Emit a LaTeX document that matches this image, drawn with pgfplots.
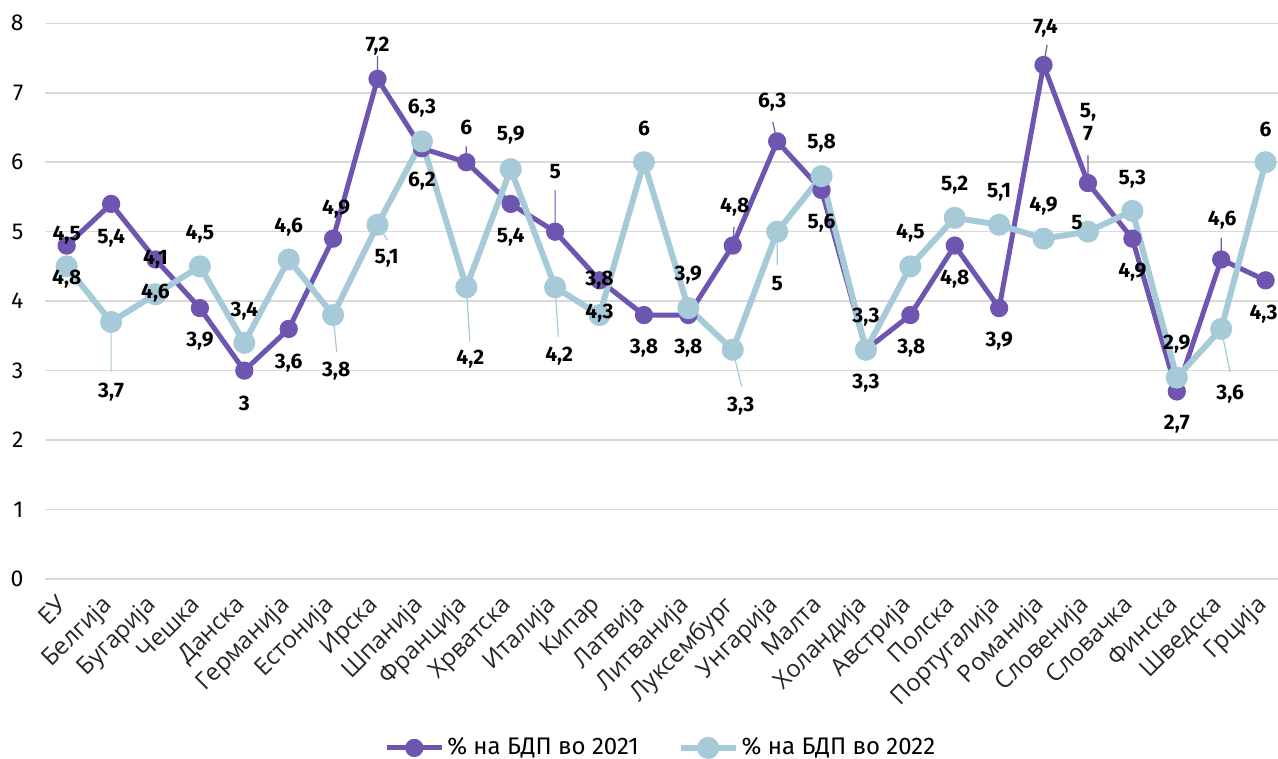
\documentclass[border=0pt]{standalone}
\usepackage{pgfplots}
\pgfplotsset{compat=1.18}
\usepackage{pgfplotstable}
\usepackage{fontspec}
\setmainfont{Fira Sans}
\newfontfamily\catfont{Open Sans}
\definecolor{c21}{HTML}{6E55B0}
\definecolor{c22}{HTML}{A6CAD8}
\definecolor{gridc}{HTML}{D9D9D9}
\newcommand\sfv{\shortstack{5,\\7}}

% x y dx dy (label offset, pt) lbl
\pgfplotstableread{
x y dx dy lbl
0 4.8 0 5.5 4,5
1 5.4 0 -17 5,4
2 4.6 0 0 4,1
3 3.9 0 -16.5 3,9
4 3.0 0 -16.5 3
5 3.6 0 -17 3,6
6 4.9 1.5 15 4,9
7 7.2 0 16.5 7,2
8 6.2 0 -16.5 6,2
9 6.0 0 17.5 6
10 5.4 0 -16.5 5,4
11 5.0 0 30 5
12 4.3 0 0 3,8
13 3.8 0 -16.5 3,8
14 3.8 0 -16.5 3,8
15 4.8 1 19.5 4,8
16 6.3 -2.5 19.5 6,3
17 5.6 0 -16.5 5,6
18 3.3 0 -16.5 3,3
19 3.8 0.5 -16.5 3,8
20 4.8 0 -16.5 4,8
21 3.9 0 -16.5 3,9
22 7.4 1 18.5 7,4
23 5.7 0 30.5 \sfv
24 4.9 0 -16.5 4,9
25 2.7 0 -16.5 2,7
26 4.6 0.5 19.5 4,6
27 4.3 -1 -17 4,3
}\tabA

\pgfplotstableread{
x y dx dy lbl
0 4.5 0 -6.5 4,8
1 3.7 0 -35 3,7
2 4.1 0 0.5 4,6
3 4.5 0 16 4,5
4 3.4 0 16 3,4
5 4.6 0 16 4,6
6 3.8 1.5 -28 3,8
7 5.1 4.5 -17 5,1
8 6.3 0 16.5 6,3
9 4.2 2 -36 4,2
10 5.9 0 17 5,9
11 4.2 2 -34.5 4,2
12 3.8 0 1 4,3
13 6.0 0 17 6
14 3.9 0 16.5 3,9
15 3.3 4 -28 3,3
16 5.0 0 -26 5
17 5.8 0 16.5 5,8
18 3.3 0 16.5 3,3
19 4.5 0 16.5 4,5
20 5.2 0 16.5 5,2
21 5.1 0 16 5,1
22 4.9 0 16.5 4,9
23 5.0 -5.5 4.5 5
24 5.3 0 16 5,3
25 2.9 0 16.5 2,9
26 3.6 4.5 -32.5 3,6
27 6.0 0 16.5 6
}\tabB

% leader lines of the data labels
\pgfplotstableread{
x y
7 7.2
7 7.53
nan nan
9 6.0
9 6.23
nan nan
11 5.0
11 5.6
nan nan
15 4.8
15.03 5.07
nan nan
16 6.3
15.9 6.58
nan nan
22 7.4
22.08 7.69
nan nan
23 5.7
23 6.1
nan nan
26 4.6
26 4.91
}\leadA

\pgfplotstableread{
x y
1 3.7
1 2.98
nan nan
6 3.8
6.08 3.27
nan nan
7 5.1
7.22 4.88
nan nan
9 4.2
9.08 3.42
nan nan
11 4.2
11.07 3.49
nan nan
15 3.3
15.2 2.77
nan nan
16 5.0
16 4.52
nan nan
26 3.6
26.2 2.98
}\leadB

\begin{document}
\begin{tikzpicture}
\path[use as bounding box] (-22.25pt,-90pt) rectangle (616.75pt,289.5pt);
\begin{axis}[
scale only axis,
width=616.75pt,
height=277.85pt,
xmin=-0.5, xmax=27.28,
ymin=0, ymax=8,
clip=false,
axis line style={draw=none},
tick style={draw=none},
ymajorgrids,
grid style={gridc, line width=0.75pt},
ytick={0,...,8},
/pgf/number format/assume math mode=true,
yticklabel style={font=\fontsize{11.5}{13}\selectfont, xshift=-7pt},
xtick={0,...,27},
xticklabels={ЕУ,Белгија,Бугарија,Чешка,Данска,Германија,Естонија,Ирска,Шпанија,Франција,Хрватска,Италија,Кипар,Латвија,Литванија,Луксембург,Унгарија,Малта,Холандија,Австрија,Полска,Португалија,Романија,Словенија,Словачка,Финска,Шведска,Грција},
xticklabel style={font=\catfont\fontsize{12}{14}\selectfont, text=black!85, rotate=45, anchor=north east, xshift=-5.5pt, yshift=2pt},
lbls/.style={
  point meta=explicit symbolic,
  nodes near coords,
  visualization depends on={\thisrow{dx} \as \dx},
  visualization depends on={\thisrow{dy} \as \dy},
  every node near coord/.append style={anchor=center, xshift=\dx pt, yshift=\dy pt, font=\bfseries\fontsize{10.5}{11}\selectfont, text=black, inner sep=0pt},
},
legend style={at={(0.5,-0.304)}, anchor=center, draw=none, legend columns=2,
  font=\fontsize{12}{14}\selectfont, nodes={inner sep=1.5pt},
  /tikz/every even column/.append style={column sep=18pt}},
legend image code/.code={\draw[mark repeat=2,mark phase=2,#1] plot coordinates {(0pt,0pt) (13.75pt,0pt) (27.5pt,0pt)};},
]
\addplot[c21, line width=0.6pt, unbounded coords=jump, forget plot] table[x=x, y=y] {\leadA};
\addplot[c22, line width=0.6pt, unbounded coords=jump, forget plot] table[x=x, y=y] {\leadB};
\addplot[c21, line width=2.5pt, mark=*, mark size=3.3pt, mark options={solid, fill=c21, draw=c21}, lbls]
  table[x=x, y=y, meta=lbl] {\tabA};
\addlegendentry{\% на БДП во 2021}
\addplot[c22, line width=3pt, mark=*, mark size=4pt, mark options={solid, fill=c22, draw=c22}, lbls]
  table[x=x, y=y, meta=lbl] {\tabB};
\addlegendentry{\% на БДП во 2022}
\end{axis}
\end{tikzpicture}
\end{document}
